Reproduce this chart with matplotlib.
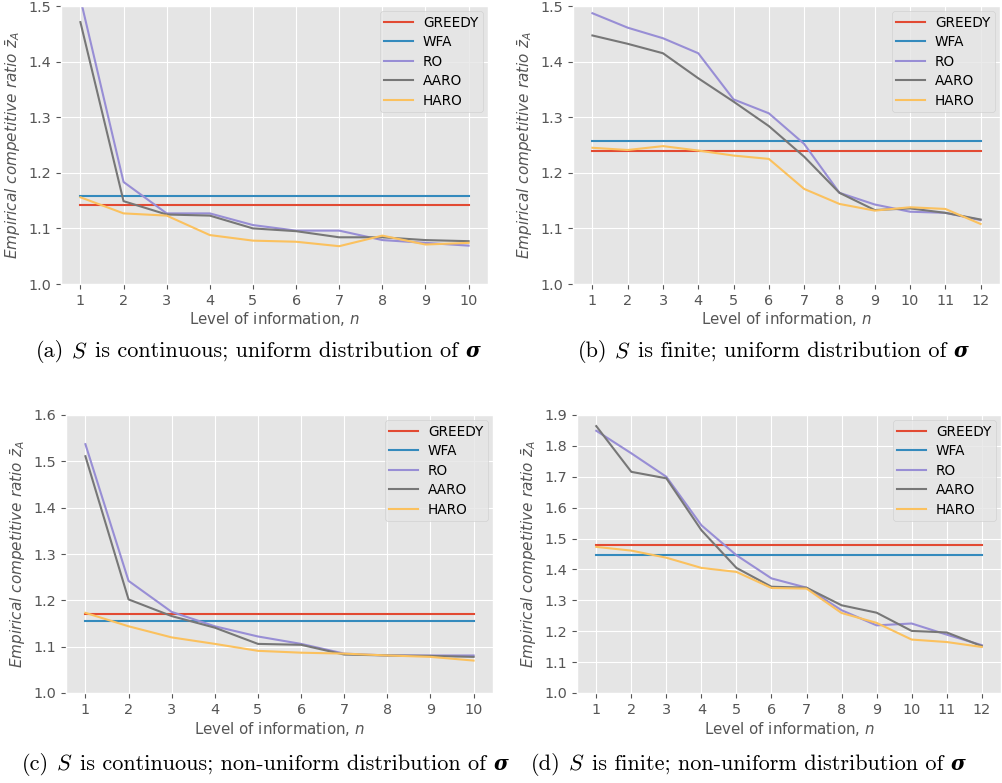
import matplotlib
matplotlib.use("Agg")
import matplotlib.pyplot as plt
import numpy as np

plt.style.use("ggplot")

methods = ["GREEDY", "WFA", "RO", "AARO", "HARO"]

# (a) continuous, uniform
n_a = list(range(1, 11))
greedy_a = 1.142
wfa_a = 1.158
ro_a = [1.513, 1.1835, 1.127, 1.127, 1.106, 1.096, 1.096, 1.079, 1.074, 1.069]
aaro_a = [1.471, 1.149, 1.125, 1.123, 1.100, 1.095, 1.084, 1.084, 1.079, 1.077]
haro_a = [1.156, 1.127, 1.123, 1.088, 1.078, 1.076, 1.068, 1.087, 1.071, 1.074]

# (b) finite, uniform
n_b = list(range(1, 13))
greedy_b = 1.239
wfa_b = 1.257
ro_b = [1.487, 1.461, 1.442, 1.415, 1.332, 1.307, 1.252, 1.164, 1.143, 1.130, 1.128, 1.115]
aaro_b = [1.447, 1.432, 1.415, 1.370, 1.328, 1.284, 1.229, 1.164, 1.133, 1.136, 1.128, 1.116]
haro_b = [1.245, 1.241, 1.248, 1.240, 1.231, 1.225, 1.171, 1.144, 1.132, 1.138, 1.135, 1.108]

# (c) continuous, non-uniform
n_c = list(range(1, 11))
greedy_c = 1.170
wfa_c = 1.155
ro_c = [1.537, 1.242, 1.175, 1.144, 1.122, 1.106, 1.085, 1.081, 1.081, 1.081]
aaro_c = [1.511, 1.202, 1.166, 1.141, 1.106, 1.104, 1.083, 1.081, 1.080, 1.078]
haro_c = [1.173, 1.144, 1.120, 1.106, 1.091, 1.087, 1.085, 1.081, 1.078, 1.070]

# (d) finite, non-uniform
n_d = list(range(1, 13))
greedy_d = 1.479
wfa_d = 1.446
ro_d = [1.849, 1.776, 1.700, 1.543, 1.446, 1.371, 1.341, 1.268, 1.219, 1.225, 1.189, 1.155]
aaro_d = [1.864, 1.716, 1.695, 1.527, 1.405, 1.344, 1.341, 1.284, 1.260, 1.201, 1.196, 1.152]
haro_d = [1.473, 1.461, 1.438, 1.405, 1.392, 1.340, 1.338, 1.259, 1.227, 1.173, 1.165, 1.149]

captions = [
    ("(a)", "is continuous; uniform distribution of"),
    ("(b)", "is finite; uniform distribution of"),
    ("(c)", "is continuous; non-uniform distribution of"),
    ("(d)", "is finite; non-uniform distribution of"),
]

panels = [
    (n_a, greedy_a, wfa_a, ro_a, aaro_a, haro_a, (1.0, 1.5), np.arange(1.0, 1.51, 0.1)),
    (n_b, greedy_b, wfa_b, ro_b, aaro_b, haro_b, (1.0, 1.5), np.arange(1.0, 1.51, 0.1)),
    (n_c, greedy_c, wfa_c, ro_c, aaro_c, haro_c, (1.0, 1.6), np.arange(1.0, 1.61, 0.1)),
    (n_d, greedy_d, wfa_d, ro_d, aaro_d, haro_d, (1.0, 1.9), np.arange(1.0, 1.91, 0.1)),
]

W, H = 1002, 783
fig = plt.figure(figsize=(W / 100, H / 100), dpi=100)

# axes boxes in pixels: left, right, top, bottom
boxes = [
    (61, 488, 6, 284),
    (573, 1000, 6, 284),
    (66, 493, 415, 693),
    (577, 1001, 415, 693),
]
caption_pos = [(258, 352), (773, 352), (265, 765), (748, 765)]

colors = plt.rcParams["axes.prop_cycle"].by_key()["color"]

for i, (box, panel) in enumerate(zip(boxes, panels)):
    l, r, t, b = box
    ax = fig.add_axes([l / W, 1 - b / H, (r - l) / W, (b - t) / H])
    n, g, w, ro, aaro, haro, ylim, yt = panel
    ax.plot(n, [g] * len(n), color=colors[0], label="GREEDY")
    ax.plot(n, [w] * len(n), color=colors[1], label="WFA")
    ax.plot(n, ro, color=colors[2], label="RO")
    ax.plot(n, aaro, color=colors[3], label="AARO")
    ax.plot(n, haro, color=colors[4], label="HARO")
    ax.set_ylim(*ylim)
    ax.set_yticks(yt)
    ax.set_yticklabels([f"{v:.1f}" for v in yt])
    ax.set_xticks(n)
    ax.tick_params(labelsize=10.4)
    ax.set_xlabel("Level of information, $n$", fontsize=10.8, color="#555555",
                  labelpad=2)
    ax.set_ylabel(r"Empirical competitive ratio $\bar{z}_{A}$", fontsize=11,
                  color="#555555", style="italic")
    ax.legend(loc="upper right", fontsize=9.8, labelspacing=0.4,
              handlelength=2.1, borderpad=0.32, handletextpad=0.75,
              borderaxespad=0.4)

# captions
fig.canvas.draw()
renderer = fig.canvas.get_renderer()
FS = 16
gap = FS * 100 / 72 * 0.33
for (pre, post), (cx, cy) in zip(captions, caption_pos):
    parts = [
        (pre, dict(family="cmr10")),
        ("$S$", dict(family="cmr10")),
        (post, dict(family="cmr10")),
        ("σ", dict(family="DejaVu Serif", weight="bold", style="italic",
                   fontsize=FS * 0.9)),
    ]
    texts = []
    x = 0
    for j, (s, kw) in enumerate(parts):
        kw = dict(kw)
        fs = kw.pop("fontsize", FS)
        tx = fig.text(x / W, 1 - cy / H, s, fontsize=fs, va="baseline", ha="left",
                      math_fontfamily="cm", **kw)
        bb = tx.get_window_extent(renderer)
        texts.append((tx, x))
        x += bb.width + gap
    total = x - gap
    start = cx - total / 2
    for tx, off in texts:
        tx.set_x((start + off) / W)
        tx.set_y(1 - (cy + 5) / H)

fig.savefig("out.png", dpi=100)
